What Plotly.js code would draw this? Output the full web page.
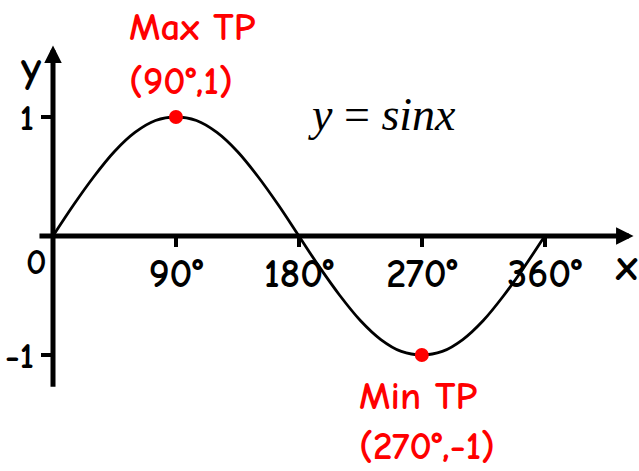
<!DOCTYPE html>
<html>
<head>
<meta charset="utf-8">
<script src="https://cdn.plot.ly/plotly-3.0.1.min.js"></script>
<style>html,body{margin:0;padding:0;background:#fff;}#chart{width:639px;height:471px;}</style>
</head>
<body>
<div id="chart"></div>
<script>
// Data
const angles = [0,15,30,45,60,75,90,105,120,135,150,165,180,195,210,225,240,255,270,285,300,315,330,345,360];
const values = [0,0.26,0.5,0.71,0.87,0.97,1,0.97,0.87,0.71,0.5,0.26,0,-0.26,-0.5,-0.71,-0.87,-0.97,-1,-0.97,-0.87,-0.71,-0.5,-0.26,0];
const tpX = [90, 270];
const tpY = [1, -1];
const xTickVals = [90, 180, 270, 360];
const xTickText = ['90°', '180°', '270°', '360°'];
const yTickVals = [1, -1];
const yTickText = ['1', '-1'];
const maxLabel = ['Max TP', '(90°,1)'];
const minLabel = ['Min TP', '(270°,-1)'];

const hand = 'Comic Sans MS, Comic Neue, Open Sans, sans-serif';
const red = '#ff0000';

const traces = [
  {x: angles, y: values, type: 'scatter', mode: 'lines', line: {color: '#000', width: 2.8, shape: 'spline'}, hoverinfo: 'skip'},
  {x: tpX, y: tpY, type: 'scatter', mode: 'markers', marker: {color: red, size: 14}, hoverinfo: 'skip'}
];

const layout = {
  width: 639, height: 471,
  margin: {l: 0, r: 0, t: 0, b: 0},
  paper_bgcolor: '#fff', plot_bgcolor: '#fff',
  showlegend: false,
  xaxis: {
    range: [-38.8, 429.0], anchor: 'free', position: (471 - 236) / 471,
    showgrid: false, zeroline: false, showline: false,
    tickmode: 'array', tickvals: xTickVals, ticktext: xTickText,
    ticks: 'outside', ticklen: 10, tickwidth: 3.5, tickcolor: '#000',
    ticklabelstandoff: -8,
    tickfont: {family: hand, size: 40, color: '#000', weight: 'bold'}, fixedrange: true
  },
  yaxis: {
    range: [-1.975, 1.983], anchor: 'free', position: 53 / 639,
    showgrid: false, zeroline: false, showline: false,
    tickmode: 'array', tickvals: yTickVals, ticktext: yTickText,
    ticks: 'outside', ticklen: 12, tickwidth: 3.5, tickcolor: '#000',
    tickfont: {family: hand, size: 36, color: '#000', weight: 'bold'}, fixedrange: true
  },
  annotations: [
    // axes with arrowheads
    {x: 425, y: 0, ax: -11, ay: 0, xref: 'x', yref: 'y', axref: 'x', ayref: 'y', text: '', showarrow: true, arrowhead: 2, arrowsize: 0.7, arrowwidth: 5, arrowcolor: '#000'},
    {x: 0, y: 1.6, ax: 0, ay: -1.28, xref: 'x', yref: 'y', axref: 'x', ayref: 'y', text: '', showarrow: true, arrowhead: 2, arrowsize: 0.7, arrowwidth: 5, arrowcolor: '#000'},
    // axis letters and origin
    {x: 420, y: -0.25, xref: 'x', yref: 'y', text: 'x', showarrow: false, font: {family: hand, size: 44, color: '#000', weight: 'bold'}},
    {x: -16, y: 1.42, xref: 'x', yref: 'y', text: 'y', showarrow: false, font: {family: hand, size: 44, color: '#000', weight: 'bold'}},
    {x: -12, y: -0.22, xref: 'x', yref: 'y', text: '0', showarrow: false, font: {family: hand, size: 36, color: '#000', weight: 'bold'}},
    // equation
    {x: 240.5, y: 1.02, xref: 'x', yref: 'y', text: '<i>y</i> = <i>sinx</i>', showarrow: false, font: {family: 'Liberation Serif, Times New Roman, serif', size: 46, color: '#000'}},
    // turning point labels
    {x: 54, y: 1.75, xref: 'x', yref: 'y', xanchor: 'left', text: maxLabel[0], showarrow: false, font: {family: hand, size: 39, color: red, weight: 'bold'}},
    {x: 54, y: 1.295, xref: 'x', yref: 'y', xanchor: 'left', text: maxLabel[1], showarrow: false, font: {family: hand, size: 39, color: red, weight: 'bold'}},
    {x: 222.5, y: -1.353, xref: 'x', yref: 'y', xanchor: 'left', text: minLabel[0], showarrow: false, font: {family: hand, size: 39, color: red, weight: 'bold'}},
    {x: 222.5, y: -1.773, xref: 'x', yref: 'y', xanchor: 'left', text: minLabel[1], showarrow: false, font: {family: hand, size: 39, color: red, weight: 'bold'}}
  ]
};

Plotly.newPlot('chart', traces, layout, {staticPlot: true, displayModeBar: false});
</script>
</body>
</html>
